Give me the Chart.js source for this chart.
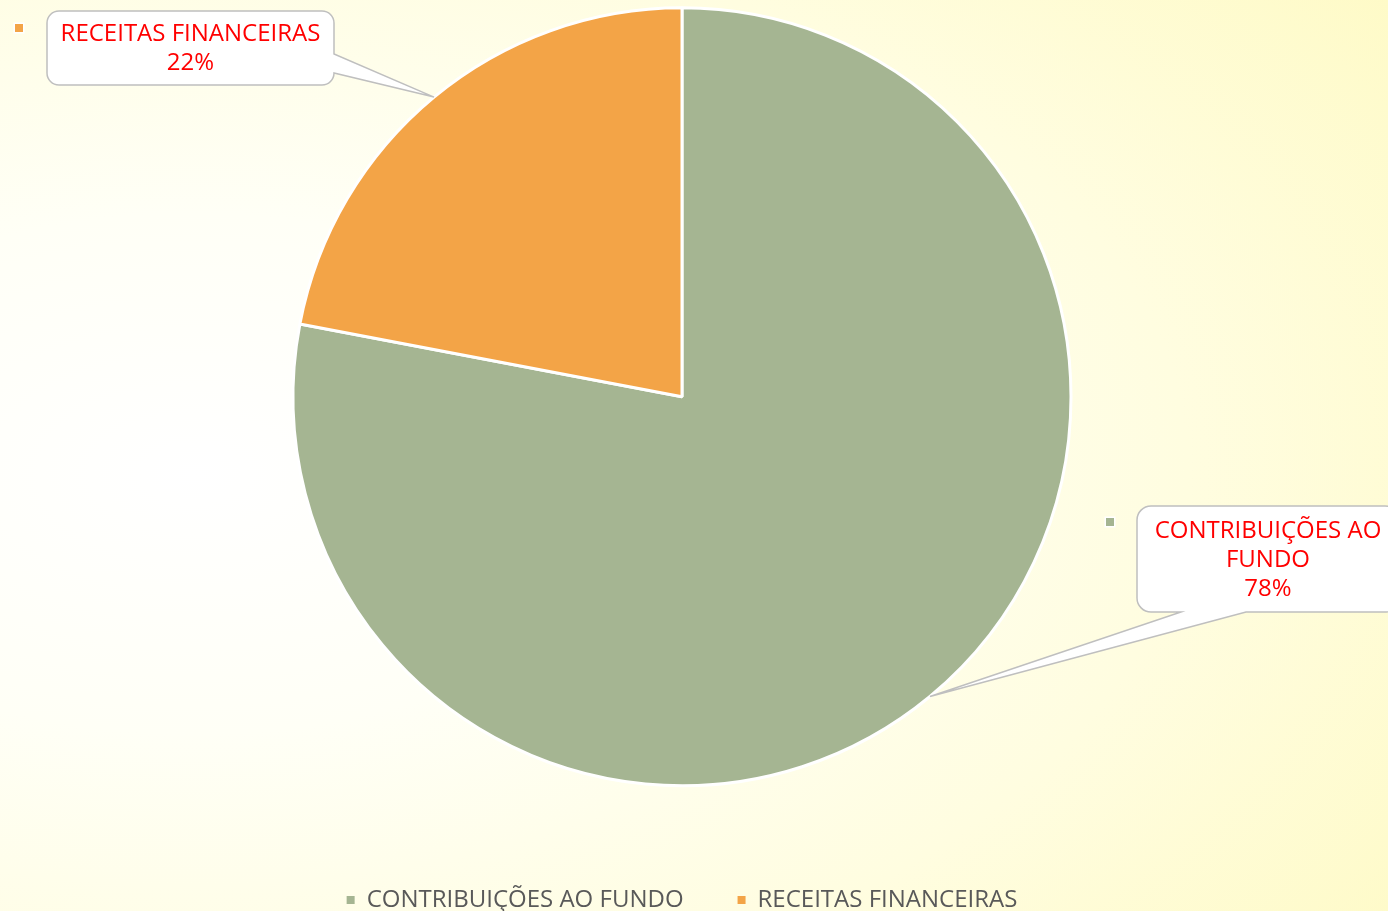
<!DOCTYPE html>
<html>
<head>
<meta charset="utf-8">
<script src="https://cdn.jsdelivr.net/npm/chart.js@4"></script>
<style>
  html, body { margin: 0; padding: 0; }
  body {
    width: 1388px; height: 911px; overflow: hidden;
    background: radial-gradient(ellipse 110% 95% at 14% 52%, #ffffff 0%, #fffff6 30%, #fffde0 65%, #fefac4 100%);
  }
  #wrap { position: relative; width: 1388px; height: 911px; }
</style>
</head>
<body>
<div id="wrap"><canvas id="pie"></canvas></div>
<script>
const categories = ['CONTRIBUIÇÕES AO FUNDO', 'RECEITAS FINANCEIRAS'];
const shares = [78, 22];
const sliceColors = ['#A5B592', '#F3A447'];
// callout text, already broken into lines
const calloutLines = [['CONTRIBUIÇÕES AO', 'FUNDO'], ['RECEITAS FINANCEIRAS']];

const FONT = '"Open Sans", "DejaVu Sans", sans-serif';

// where each callout box sits, and where its tail leaves the box
const callouts = [
  { box: { x: 1137, y: 506, w: 262, h: 106, r: 14 }, side: 'bottom', tail: [1246, 1181], key: { x: 1106, y: 518 } },
  { box: { x: 47, y: 11, w: 287, h: 74, r: 12 }, side: 'right', tail: [54, 73], key: { x: 15, y: 24 } }
];

function calloutPath(ctx, c, ax, ay) {
  const { x, y, w, h, r } = c.box;
  ctx.beginPath();
  ctx.moveTo(x + r, y);
  ctx.lineTo(x + w - r, y);
  ctx.arcTo(x + w, y, x + w, y + r, r);
  if (c.side === 'right') {
    ctx.lineTo(x + w, c.tail[0]);
    ctx.lineTo(ax, ay);
    ctx.lineTo(x + w, c.tail[1]);
  }
  ctx.lineTo(x + w, y + h - r);
  ctx.arcTo(x + w, y + h, x + w - r, y + h, r);
  if (c.side === 'bottom') {
    ctx.lineTo(c.tail[0], y + h);
    ctx.lineTo(ax, ay);
    ctx.lineTo(c.tail[1], y + h);
  }
  ctx.lineTo(x + r, y + h);
  ctx.arcTo(x, y + h, x, y + h - r, r);
  ctx.lineTo(x, y + r);
  ctx.arcTo(x, y, x + r, y, r);
  ctx.closePath();
}

const calloutPlugin = {
  id: 'callouts',
  afterDatasetsDraw(chart) {
    const ctx = chart.ctx;
    const meta = chart.getDatasetMeta(0);
    const total = shares.reduce((a, b) => a + b, 0);
    meta.data.forEach((arc, i) => {
      const c = callouts[i];
      const mid = (arc.startAngle + arc.endAngle) / 2;
      const ax = arc.x + Math.cos(mid) * arc.outerRadius;
      const ay = arc.y + Math.sin(mid) * arc.outerRadius;
      ctx.save();
      calloutPath(ctx, c, ax, ay);
      ctx.fillStyle = '#ffffff';
      ctx.fill();
      ctx.strokeStyle = '#BFBFBF';
      ctx.lineWidth = 1.5;
      ctx.stroke();

      // little colour key
      ctx.fillStyle = '#ffffff';
      ctx.fillRect(c.key.x - 1.5, c.key.y - 1.5, 11, 11);
      ctx.fillStyle = sliceColors[i];
      ctx.fillRect(c.key.x, c.key.y, 8, 8);

      const lines = calloutLines[i].concat([Math.round(shares[i] / total * 100) + '%']);
      const lh = 29;
      const cx = c.box.x + c.box.w / 2;
      const cy = c.box.y + c.box.h / 2 + 1;
      ctx.fillStyle = '#FF0000';
      ctx.font = '24px ' + FONT;
      ctx.textAlign = 'center';
      ctx.textBaseline = 'middle';
      lines.forEach((t, k) => {
        ctx.fillText(t, cx, cy + (k - (lines.length - 1) / 2) * lh);
      });
      ctx.restore();
    });
  }
};

new Chart(document.getElementById('pie'), {
  type: 'pie',
  data: {
    labels: categories,
    datasets: [{
      data: shares,
      backgroundColor: sliceColors,
      borderColor: '#ffffff',
      borderWidth: 3,
      radius: 389
    }]
  },
  options: {
    responsive: true,
    maintainAspectRatio: false,
    animation: false,
    layout: { padding: { top: 9, left: 0, right: 24, bottom: -11 } },
    plugins: {
      tooltip: { enabled: false },
      legend: {
        position: 'bottom',
        title: { display: true, text: '', padding: { top: 0, bottom: 35 } },
        labels: {
          boxWidth: 8,
          boxHeight: 8,
          padding: 54,
          color: '#595959',
          font: { family: FONT, size: 24 },
          generateLabels(chart) {
            return Chart.overrides.pie.plugins.legend.labels.generateLabels(chart).map(item => {
              item.lineWidth = 0;
              item.strokeStyle = item.fillStyle;
              return item;
            });
          }
        }
      }
    }
  },
  plugins: [calloutPlugin]
});
</script>
</body>
</html>
